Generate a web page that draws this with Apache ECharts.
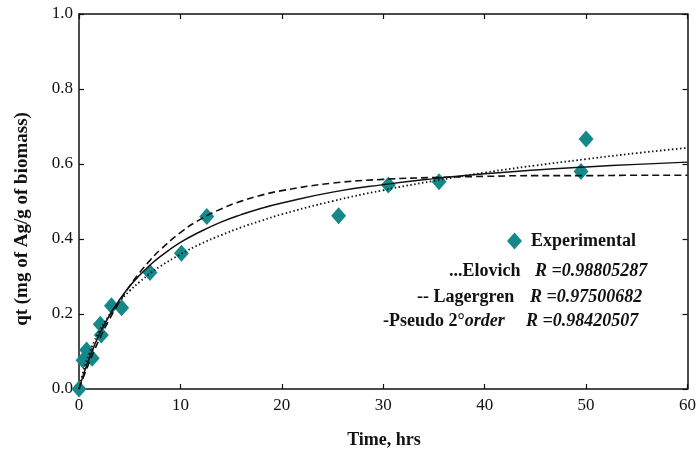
<!DOCTYPE html>
<html>
<head>
<meta charset="utf-8">
<script src="https://cdn.jsdelivr.net/npm/echarts@6/dist/echarts.min.js"></script>
<style>
  html, body { margin: 0; padding: 0; background: #fff; }
  #chart { width: 699px; height: 455px; }
</style>
</head>
<body>
<div id="chart"></div>
<script>
// Experimental uptake (time in hrs, qt in mg Ag / g biomass)
const expTime = [0, 0.4, 0.75, 1.3, 2.1, 2.2, 3.2, 4.2, 7.0, 10.1, 12.6, 25.6, 30.5, 35.5, 49.5, 50.0];
const expQt   = [0, 0.077, 0.104, 0.082, 0.173, 0.144, 0.222, 0.217, 0.311, 0.362, 0.46, 0.462, 0.544, 0.553, 0.58, 0.667];

// Fitted kinetic model curves, sampled at these times
const modelTime  = [0, 0.5, 1, 1.5, 2, 3, 4, 5, 6, 7, 8, 10, 12, 14, 16, 18, 20, 25, 30, 35, 40, 45, 50, 55, 60];
const elovichQt  = [0, 0.054, 0.094, 0.127, 0.154, 0.198, 0.233, 0.262, 0.286, 0.308, 0.327, 0.359, 0.387, 0.410, 0.431, 0.449, 0.466, 0.501, 0.530, 0.555, 0.577, 0.596, 0.613, 0.629, 0.643];
const lagergrenQt = [0, 0.036, 0.070, 0.102, 0.132, 0.186, 0.233, 0.275, 0.311, 0.343, 0.371, 0.417, 0.453, 0.480, 0.501, 0.517, 0.529, 0.549, 0.559, 0.564, 0.567, 0.569, 0.569, 0.570, 0.570];
const pseudo2Qt  = [0, 0.043, 0.081, 0.115, 0.145, 0.196, 0.238, 0.274, 0.304, 0.330, 0.353, 0.391, 0.420, 0.445, 0.465, 0.482, 0.496, 0.525, 0.545, 0.561, 0.574, 0.584, 0.592, 0.599, 0.605];

// Axis ticks
const xTicks = [0, 10, 20, 30, 40, 50, 60];
const yTicks = [0.0, 0.2, 0.4, 0.6, 0.8, 1.0];

const pair = (xs, ys) => xs.map((x, i) => [x, ys[i]]);

const SERIF = '"Liberation Serif", "Times New Roman", serif';
const INK = '#111';
const TEAL = '#15898a';

const frameAxis = {
  axisLine: { show: true, onZero: false, lineStyle: { color: INK, width: 1.5 } },
  axisTick: { show: true, inside: true, length: 5, lineStyle: { color: INK, width: 1.2 } },
  splitLine: { show: false }
};

const chart = echarts.init(document.getElementById('chart'), null, { renderer: 'canvas' });

chart.setOption({
  backgroundColor: '#fff',
  animation: false,
  grid: { left: 79, right: 10, top: 14, bottom: 66 },
  xAxis: [
    Object.assign({
      type: 'value', position: 'bottom',
      min: xTicks[0], max: xTicks[xTicks.length - 1], interval: xTicks[1] - xTicks[0],
      axisLabel: { color: INK, fontFamily: SERIF, fontSize: 17, margin: 8 }
    }, frameAxis),
    Object.assign({
      type: 'value', position: 'top',
      min: xTicks[0], max: xTicks[xTicks.length - 1], interval: xTicks[1] - xTicks[0],
      axisLabel: { show: false }
    }, frameAxis)
  ],
  yAxis: [
    Object.assign({
      type: 'value', position: 'left',
      min: yTicks[0], max: yTicks[yTicks.length - 1], interval: yTicks[1] - yTicks[0],
      axisLabel: { color: INK, fontFamily: SERIF, fontSize: 17, margin: 6,
                   formatter: v => v.toFixed(1) }
    }, frameAxis),
    Object.assign({
      type: 'value', position: 'right',
      min: yTicks[0], max: yTicks[yTicks.length - 1], interval: yTicks[1] - yTicks[0],
      axisLabel: { show: false }
    }, frameAxis)
  ],
  legend: {
    data: ['Experimental'],
    left: 502, top: 227,
    itemWidth: 15, itemHeight: 17, itemGap: 0,
    itemStyle: { opacity: 1 },
    textStyle: { fontFamily: SERIF, fontSize: 18, fontWeight: 'bold', color: INK, padding: [0, 0, 0, 4] }
  },
  series: [
    {
      name: 'Experimental', type: 'scatter',
      data: pair(expTime, expQt),
      symbol: 'diamond', symbolSize: [15, 17],
      itemStyle: { color: TEAL, opacity: 1 },
      z: 2
    },
    {
      name: 'Elovich', type: 'line', data: pair(modelTime, elovichQt),
      smooth: 0.5, showSymbol: false,
      lineStyle: { color: INK, width: 1.8, type: [1.5, 2.5] }, z: 3
    },
    {
      name: 'Lagergren', type: 'line', data: pair(modelTime, lagergrenQt),
      smooth: 0.5, showSymbol: false,
      lineStyle: { color: INK, width: 1.6, type: [7, 4] }, z: 3
    },
    {
      name: 'Pseudo 2nd order', type: 'line', data: pair(modelTime, pseudo2Qt),
      smooth: 0.5, showSymbol: false,
      lineStyle: { color: INK, width: 1.5 }, z: 3
    }
  ],
  graphic: [
    {
      type: 'text', x: 22, y: 219, rotation: Math.PI / 2,
      style: { text: 'qt (mg of Ag/g of biomass)', fill: INK, font: 'bold 19px ' + SERIF,
               textAlign: 'center', textVerticalAlign: 'middle' }
    },
    {
      type: 'text', x: 384, y: 440,
      style: { text: 'Time, hrs', fill: INK, font: 'bold 18px ' + SERIF,
               textAlign: 'center', textVerticalAlign: 'middle' }
    },
    // model fit annotations
    { type: 'text', x: 449, y: 271,
      style: { text: '...Elovich', fill: INK, font: 'bold 18px ' + SERIF, textVerticalAlign: 'middle' } },
    { type: 'text', x: 535, y: 271,
      style: { text: 'R =0.98805287', fill: INK, font: 'italic bold 18px ' + SERIF, textVerticalAlign: 'middle' } },
    { type: 'text', x: 417, y: 297,
      style: { text: '-- Lagergren', fill: INK, font: 'bold 18px ' + SERIF, textVerticalAlign: 'middle' } },
    { type: 'text', x: 530, y: 297,
      style: { text: 'R =0.97500682', fill: INK, font: 'italic bold 18px ' + SERIF, textVerticalAlign: 'middle' } },
    { type: 'text', x: 383, y: 321,
      style: {
        text: '{b|-Pseudo 2°}{bi|order}', textVerticalAlign: 'middle',
        rich: {
          b:  { fill: INK, fontFamily: SERIF, fontSize: 18, fontWeight: 'bold' },
          bi: { fill: INK, fontFamily: SERIF, fontSize: 18, fontWeight: 'bold', fontStyle: 'italic' }
        }
      } },
    { type: 'text', x: 526, y: 321,
      style: { text: 'R =0.98420507', fill: INK, font: 'italic bold 18px ' + SERIF, textVerticalAlign: 'middle' } }
  ]
});
</script>
</body>
</html>
